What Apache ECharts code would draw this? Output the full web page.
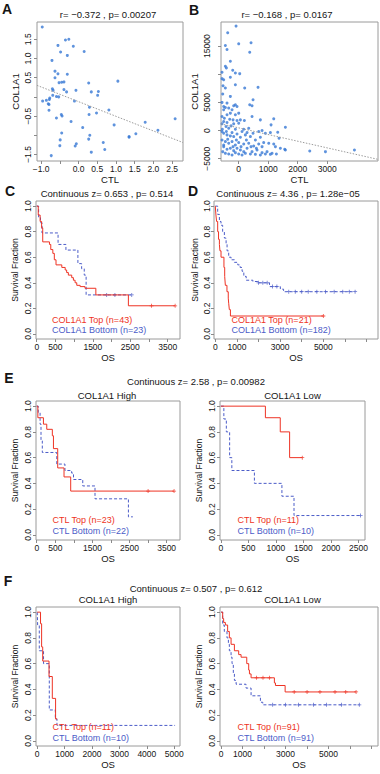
<!DOCTYPE html>
<html>
<head>
<meta charset="utf-8">
<script src="https://cdn.jsdelivr.net/npm/echarts@6/dist/echarts.min.js"></script>
<style>
html, body { margin: 0; padding: 0; background: #fff; }
#main { width: 380px; height: 774px; }
</style>
</head>
<body>
<div id="main"></div>
<script>
// ---- data ----
// A: CTL vs COL1A1 (first cohort)
var aPoints = [
    [-0.97, 1.82], [-0.26, 1.50], [-0.35, 1.48], [-0.55, 1.34], [-0.14, 1.32], [-0.48, 1.17], [-0.30, 1.08],
    [0.15, 1.18], [-0.71, 0.95], [-0.63, 0.67], [-0.55, 0.60], [-0.30, 0.59], [-0.63, 0.50], [-0.52, 0.37],
    [-0.39, 0.39], [-0.45, 0.38], [1.05, 0.41], [0.27, 0.36], [-0.70, 0.21], [-0.68, 0.17], [-0.39, 0.19],
    [-0.32, 0.13], [-0.07, 0.17], [0.34, 0.13], [0.53, 0.14], [0.51, 0.04], [-0.69, 0.04], [-0.59, 0.01],
    [-0.53, 0.00], [-0.77, -0.03], [-0.78, -0.07], [-0.96, -0.11], [-0.86, -0.09], [-0.81, -0.18],
    [-0.79, -0.20], [-0.11, -0.11], [0.29, -0.27], [0.81, -0.34], [-0.79, -0.35], [-0.46, -0.46],
    [-0.44, -0.50], [-0.59, -0.55], [0.28, -0.46], [0.48, -0.42], [-0.20, -0.64], [2.58, -0.57],
    [1.78, -0.66], [0.11, -0.80], [0.95, -0.73], [2.12, -0.87], [-0.45, -0.94], [0.30, -1.00],
    [1.35, -1.03], [1.53, -0.96], [1.35, -1.05], [-0.49, -1.12], [0.27, -1.10], [-0.06, -1.22],
    [0.66, -1.19], [-0.50, -1.27], [-0.09, -1.28], [0.70, -1.37], [0.34, -1.44], [-0.73, -1.53]
];
var aFit = [[-1.11, 0.30], [2.79, -1.19]];
var aXTicks = [-1, -0.5, 0, 0.5, 1, 1.5, 2, 2.5];
var aXLabels = [-1, 0, 0.5, 1, 1.5, 2, 2.5];
var aYTicks = [-1.5, -1, -0.5, 0, 0.5, 1, 1.5];
var aYLabels = [-1.5, -0.5, 0.5, 1, 1.5];

// B: CTL vs COL1A1 (second cohort)
var bPoints = [
    [-90, 18560], [-373, 17370], [418, 15590], [0, 15410], [-452, 15120], [-396, 14400], [373, 13920],
    [-283, 12320], [-565, 10350], [-452, 11420], [-418, 11130], [-203, 10710], [-113, 10230], [34, 10110],
    [-283, 9460], [-565, 9220], [-509, 9040], [-113, 8150], [-531, 7970], [-452, 7560], [203, 7560],
    [655, 7680], [-542, 6490], [-283, 6070], [-396, 4880], [-565, 5000], [486, 5470], [-509, 4280],
    [-452, 4100], [-339, 3990], [-170, 4400], [-113, 4580], [373, 4580], [452, 4400], [-57, 4280],
    [-509, 3690], [-226, 3690], [-283, 3090], [-113, 2800], [0, 3090], [-396, 2800], [-565, 2500],
    [-486, 2200], [-305, 2020], [-192, 1900], [-57, 1790], [57, 1900], [192, 1790], [452, 2500],
    [734, 1900], [1187, 2080], [1096, 1010], [1582, 600], [-509, 1610], [-396, 1430], [-565, 1190],
    [-170, 1190], [0, 1310], [-260, 830], [-429, 710], [-554, 240], [-339, 420], [-113, 240], [170, 240],
    [339, 420], [791, 0], [1322, -300], [-509, -480], [-396, -770], [-283, -950], [-170, -1070],
    [-57, -600], [57, -1190], [226, -770], [396, -1070], [565, -1670], [734, -1190], [904, -480],
    [1073, -360], [-565, -1670], [-452, -1960], [-339, -2260], [-226, -1960], [-113, -2560], [0, -2140],
    [170, -2380], [339, -2260], [508, -2740], [678, -2380], [847, -2140], [1017, -2260], [1243, -2860],
    [1412, -3150], [1582, -3450], [-509, -2860], [-396, -3330], [-283, -3150], [-170, -3570],
    [-57, -3150], [57, -3450], [170, -3750], [283, -3150], [452, -3750], [621, -3450], [791, -3930],
    [960, -3750], [1130, -4050], [1277, -4170], [-542, -3750], [-452, -4050], [-339, -4170],
    [-226, -4340], [-113, -3930], [0, -4170], [113, -4340], [226, -4050], [396, -4170], [565, -4230],
    [734, -4340], [904, -4170], [1073, -4230], [1559, -3330], [2407, -3630], [2938, -3750],
    [3921, -3450], [-509, -2560], [-373, -1550], [-192, -2860], [-79, -1670], [79, -2860], [260, -1670],
    [418, -2860], [599, -3150], [791, -2860], [1187, -2380], [1367, -1370], [-565, -180], [-418, -180],
    [-226, -360], [113, -180], [283, -360], [486, -480], [678, -180]
];
var bFit = [[-600, 1190], [4720, -5120]];
var bXTicks = [0, 1000, 2000, 3000];
var bXLabels = [0, 1000, 2000, 3000];
var bYTicks = [-5000, 0, 5000, 10000, 15000];
var bYLabels = [-5000, 0, 5000, 15000];

// survival curves [OS, fraction]
var cTop = [[0, 1.0], [40, 0.93], [90, 0.88], [130, 0.83], [160, 0.72], [340, 0.70], [375, 0.66],
    [430, 0.63], [470, 0.58], [515, 0.54], [670, 0.52], [760, 0.50], [800, 0.48], [845, 0.46],
    [935, 0.44], [980, 0.42], [1025, 0.40], [1070, 0.38], [1160, 0.37], [1290, 0.357], [1580, 0.305],
    [2450, 0.22], [3700, 0.22]];
var cBottom = [[0, 1.0], [50, 0.91], [100, 0.87], [140, 0.79], [570, 0.70], [780, 0.656], [1100, 0.55],
    [1200, 0.51], [1270, 0.46], [1320, 0.305], [2540, 0.305]];

var dTop = [[0, 1.0], [30, 0.93], [60, 0.88], [110, 0.80], [150, 0.74], [190, 0.70], [215, 0.65],
    [265, 0.60], [400, 0.52], [435, 0.45], [465, 0.38], [540, 0.33], [600, 0.28], [620, 0.24],
    [650, 0.19], [700, 0.14], [5000, 0.14]];
var dBottom = [[0, 1.0], [110, 0.935], [190, 0.88], [265, 0.85], [340, 0.80], [420, 0.75], [500, 0.70],
    [545, 0.65], [620, 0.60], [730, 0.58], [885, 0.56], [1040, 0.54], [1150, 0.52], [1240, 0.49],
    [1320, 0.45], [1430, 0.42], [1740, 0.41], [1970, 0.40], [2510, 0.37], [3010, 0.35], [3160, 0.33],
    [6470, 0.33]];

var eHighTop = [[0, 1.0], [30, 0.91], [180, 0.86], [270, 0.82], [420, 0.77], [450, 0.67], [565, 0.52],
    [735, 0.45], [915, 0.34], [3700, 0.34]];
var eHighBottom = [[0, 1.0], [40, 0.95], [90, 0.86], [115, 0.73], [150, 0.64], [540, 0.55], [760, 0.50],
    [940, 0.48], [990, 0.43], [1240, 0.38], [1570, 0.28], [2470, 0.14], [2590, 0.14]];
var eLowTop = [[0, 1.0], [810, 0.91], [1080, 0.80], [1250, 0.60], [1480, 0.60]];
var eLowBottom = [[0, 1.0], [55, 0.9], [100, 0.8], [160, 0.6], [200, 0.5], [610, 0.4], [1110, 0.3],
    [1330, 0.15], [2540, 0.15]];

var fHighTop = [[0, 1.0], [120, 0.91], [160, 0.73], [200, 0.62], [430, 0.50], [550, 0.33], [670, 0.17],
    [730, 0.17]];
var fHighBottom = [[0, 1.0], [15, 0.9], [75, 0.7], [230, 0.6], [440, 0.24], [660, 0.17], [720, 0.12],
    [5030, 0.12]];
var fLowTop = [[0, 1.0], [75, 0.95], [120, 0.92], [200, 0.90], [305, 0.85], [385, 0.80], [465, 0.75],
    [620, 0.70], [820, 0.67], [930, 0.65], [1195, 0.60], [1285, 0.55], [1320, 0.52], [1395, 0.49],
    [2480, 0.45], [2530, 0.43], [2980, 0.38], [6280, 0.38]];
var fLowBottom = [[0, 1.0], [75, 0.9], [150, 0.85], [275, 0.80], [340, 0.75], [385, 0.70], [465, 0.65],
    [510, 0.60], [570, 0.52], [620, 0.47], [700, 0.44], [1160, 0.41], [1395, 0.35], [1830, 0.30],
    [1940, 0.28], [6430, 0.28]];

// censored observations (the small + marks on the curves)
var cTopCens = [[3070, 0.22], [3700, 0.22]];
var cBottomCens = [[1870, 0.305], [2090, 0.305], [2540, 0.305]];
var dTopCens = [[5000, 0.14]];
var dBottomCens = [[2000, 0.40], [2200, 0.40], [2400, 0.40], [2650, 0.37], [2850, 0.37], [3400, 0.33],
    [3700, 0.33], [4000, 0.33], [4300, 0.33], [4700, 0.33], [5100, 0.33], [5500, 0.33], [5900, 0.33],
    [6200, 0.33], [6470, 0.33]];
var eHighTopCens = [[3000, 0.34], [3700, 0.34]];
var eLowTopCens = [[1480, 0.60]];
var eLowBottomCens = [[2540, 0.15]];
var fLowTopCens = [[1650, 0.49], [1950, 0.49], [2250, 0.49], [3400, 0.38], [4000, 0.38], [4600, 0.38],
    [5300, 0.38], [5800, 0.38], [6280, 0.38]];
var fLowBottomCens = [[2400, 0.28], [3000, 0.28], [3600, 0.28], [4300, 0.28], [4900, 0.28], [5600, 0.28],
    [6430, 0.28]];

var survTicks = [0, 0.2, 0.4, 0.6, 0.8, 1.0];
var os500Ticks = [0, 500, 1000, 1500, 2000, 2500, 3000, 3500];
var os500Labels = [0, 500, 1500, 2500, 3500];
var osLowETicks = [0, 500, 1000, 1500, 2000, 2500];
var os1000Ticks = [0, 1000, 2000, 3000, 4000, 5000, 6000, 7000];
var os1000Labels = [0, 1000, 3000, 5000];
var osHighFTicks = [0, 1000, 2000, 3000, 4000, 5000];

// ---- style ----
var FONT = '"Liberation Sans", Arial, Helvetica, sans-serif';
var RED = '#ee3324';
var BLUE = '#4b5cc8';
var DOT = '#3778d4';
var GREY = '#8a8a8a';
var INK = '#151515';
var PLUS = 'path://M4,0H6V4H10V6H6V10H4V6H0V4H4Z';

function fmt(dec) {
    return function (v) {
        var s = dec ? Number(v).toFixed(dec) : String(Math.round(v));
        return s.replace('-', '\u2212');
    };
}

function grid(l, t, w, h) {
    return {left: l, top: t, width: w, height: h, show: true, borderColor: '#9a9a9a', borderWidth: 1};
}

function xAxis(i, min, max, ticks, labels, dec, name) {
    return {
        type: 'value', gridIndex: i, min: min, max: max, position: 'bottom',
        name: name, nameLocation: 'middle', nameGap: 13,
        nameTextStyle: {fontFamily: FONT, fontSize: 9.5, color: INK},
        axisLine: {show: false, onZero: false},
        axisTick: {show: true, length: 3, customValues: ticks, lineStyle: {color: GREY}},
        axisLabel: {customValues: labels, formatter: fmt(dec), fontFamily: FONT, fontSize: 8.5, color: INK, margin: 3},
        splitLine: {show: false}
    };
}

function yAxis(i, min, max, ticks, labels, dec, name, gap, lmargin) {
    return {
        type: 'value', gridIndex: i, min: min, max: max, position: 'left',
        name: name, nameLocation: 'middle', nameGap: gap,
        nameTextStyle: {fontFamily: FONT, fontSize: name === 'COL1A1' ? 9.5 : 8.5, color: INK},
        axisLine: {show: false, onZero: false},
        axisTick: {show: true, length: 3, customValues: ticks, lineStyle: {color: GREY}},
        axisLabel: {customValues: labels, formatter: fmt(dec), rotate: 90, fontFamily: FONT, fontSize: 8.5,
            color: INK, margin: lmargin},
        splitLine: {show: false}
    };
}

function curve(i, data, color, dashed) {
    return {
        type: 'line', xAxisIndex: i, yAxisIndex: i, data: data, step: 'end',
        symbol: 'none', silent: true,
        lineStyle: {color: color, width: 1, type: dashed ? [3, 2] : 'solid'}
    };
}

function censor(i, data, color) {
    return {
        type: 'scatter', xAxisIndex: i, yAxisIndex: i, data: data, silent: true,
        symbol: PLUS, symbolSize: 4, itemStyle: {color: color, opacity: 0.85}
    };
}

function txt(x, y, s, opt) {
    opt = opt || {};
    return {
        type: 'text', x: x, y: y, silent: true, z: 100,
        style: {
            text: s, fill: opt.color || INK,
            font: (opt.bold ? 'bold ' : '') + (opt.size || 9.5) + 'px ' + FONT,
            textAlign: opt.align || 'center', textVerticalAlign: 'middle'
        }
    };
}

var chart = echarts.init(document.getElementById('main'), null, {renderer: 'svg'});

var option = {
    animation: false,
    backgroundColor: '#fff',
    grid: [
        grid(37, 22, 146, 139),
        grid(221, 22, 157, 139),
        grid(36, 201, 144, 138),
        grid(214, 201, 164, 138),
        grid(36, 401, 144, 139),
        grid(220, 401, 145, 139),
        grid(36, 607, 144, 139),
        grid(220, 607, 158, 139)
    ],
    xAxis: [
        xAxis(0, -1.11, 2.79, aXTicks, aXLabels, 1, 'CTL'),
        xAxis(1, -600, 4720, bXTicks, bXLabels, 0, 'CTL'),
        xAxis(2, -20, 3830, os500Ticks, os500Labels, 0, 'OS'),
        xAxis(3, -60, 7530, os1000Ticks, os1000Labels, 0, 'OS'),
        xAxis(4, -20, 3860, os500Ticks, os500Labels, 0, 'OS'),
        xAxis(5, -15, 2620, osLowETicks, osLowETicks, 0, 'OS'),
        xAxis(6, -45, 5210, osHighFTicks, osHighFTicks, 0, 'OS'),
        xAxis(7, -50, 7300, os1000Ticks, os1000Labels, 0, 'OS')
    ],
    yAxis: [
        yAxis(0, -1.67, 1.95, aYTicks, aYLabels, 1, 'COL1A1', 17, 5),
        yAxis(1, -5410, 19290, bYTicks, bYLabels, 0, 'COL1A1', 22, 10),
        yAxis(2, -0.04, 1.04, survTicks, survTicks, 1, 'Survival Fraction', 17, 4),
        yAxis(3, -0.04, 1.04, survTicks, survTicks, 1, 'Survival Fraction', 15, 3),
        yAxis(4, -0.04, 1.04, survTicks, survTicks, 1, 'Survival Fraction', 17, 4),
        yAxis(5, -0.04, 1.04, survTicks, survTicks, 1, 'Survival Fraction', 17, 4),
        yAxis(6, -0.04, 1.04, survTicks, survTicks, 1, 'Survival Fraction', 17, 4),
        yAxis(7, -0.04, 1.04, survTicks, survTicks, 1, 'Survival Fraction', 17, 4)
    ],
    series: [
        {type: 'scatter', xAxisIndex: 0, yAxisIndex: 0, data: aPoints, symbolSize: 3, silent: true,
            itemStyle: {color: DOT}},
        {type: 'line', xAxisIndex: 0, yAxisIndex: 0, data: aFit, symbol: 'none', silent: true,
            lineStyle: {color: '#9c9c9c', width: 1, type: [1.5, 1.5]}},
        {type: 'scatter', xAxisIndex: 1, yAxisIndex: 1, data: bPoints, symbolSize: 3, silent: true,
            itemStyle: {color: DOT}},
        {type: 'line', xAxisIndex: 1, yAxisIndex: 1, data: bFit, symbol: 'none', silent: true,
            lineStyle: {color: '#9c9c9c', width: 1, type: [1.5, 1.5]}},
        curve(2, cBottom, BLUE, true), curve(2, cTop, RED, false),
        curve(3, dBottom, BLUE, true), curve(3, dTop, RED, false),
        curve(4, eHighBottom, BLUE, true), curve(4, eHighTop, RED, false),
        curve(5, eLowBottom, BLUE, true), curve(5, eLowTop, RED, false),
        curve(6, fHighBottom, BLUE, true), curve(6, fHighTop, RED, false),
        curve(7, fLowBottom, BLUE, true), curve(7, fLowTop, RED, false),
        censor(2, cTopCens, RED), censor(2, cBottomCens, BLUE),
        censor(3, dTopCens, RED), censor(3, dBottomCens, BLUE),
        censor(4, eHighTopCens, RED),
        censor(5, eLowTopCens, RED), censor(5, eLowBottomCens, BLUE),
        censor(7, fLowTopCens, RED), censor(7, fLowBottomCens, BLUE)
    ],
    graphic: [
        // panel letters
        txt(7, 9, 'A', {bold: true, size: 14}),
        txt(194, 10, 'B', {bold: true, size: 14}),
        txt(10, 191, 'C', {bold: true, size: 14}),
        txt(193, 191, 'D', {bold: true, size: 14}),
        txt(9, 378, 'E', {bold: true, size: 14}),
        txt(8, 581, 'F', {bold: true, size: 14}),
        // titles
        txt(108, 14, 'r= \u22120.372 , p= 0.00207'),
        txt(287, 14, 'r= \u22120.168 , p= 0.0167'),
        txt(107, 193, 'Continuous z= 0.653 , p= 0.514'),
        txt(288, 193, 'Continuous z= 4.36 , p= 1.28e\u221205'),
        txt(196, 381.5, 'Continuous z= 2.58 , p= 0.00982'),
        txt(107, 395, 'COL1A1 High'),
        txt(292.5, 395, 'COL1A1 Low'),
        txt(196, 588, 'Continuous z= 0.507 , p= 0.612'),
        txt(108, 599.5, 'COL1A1 High'),
        txt(292.5, 599.5, 'COL1A1 Low'),
        // legends
        txt(52, 319.5, 'COL1A1 Top (n=43)', {align: 'left', color: RED, size: 9}),
        txt(52, 329.5, 'COL1A1 Bottom (n=23)', {align: 'left', color: BLUE, size: 9}),
        txt(231.5, 319.5, 'COL1A1 Top (n=21)', {align: 'left', color: RED, size: 9}),
        txt(231.5, 329.5, 'COL1A1 Bottom (n=182)', {align: 'left', color: BLUE, size: 9}),
        txt(52.5, 520, 'CTL Top (n=23)', {align: 'left', color: RED, size: 9}),
        txt(52.5, 531, 'CTL Bottom (n=22)', {align: 'left', color: BLUE, size: 9}),
        txt(237.5, 520, 'CTL Top (n=11)', {align: 'left', color: RED, size: 9}),
        txt(237.5, 531, 'CTL Bottom (n=10)', {align: 'left', color: BLUE, size: 9}),
        txt(52.5, 727, 'CTL Top (n=11)', {align: 'left', color: RED, size: 9}),
        txt(52.5, 737.5, 'CTL Bottom (n=10)', {align: 'left', color: BLUE, size: 9}),
        txt(237.5, 727, 'CTL Top (n=91)', {align: 'left', color: RED, size: 9}),
        txt(237.5, 737.5, 'CTL Bottom (n=91)', {align: 'left', color: BLUE, size: 9})
    ]
};

chart.setOption(option);
</script>
</body>
</html>
